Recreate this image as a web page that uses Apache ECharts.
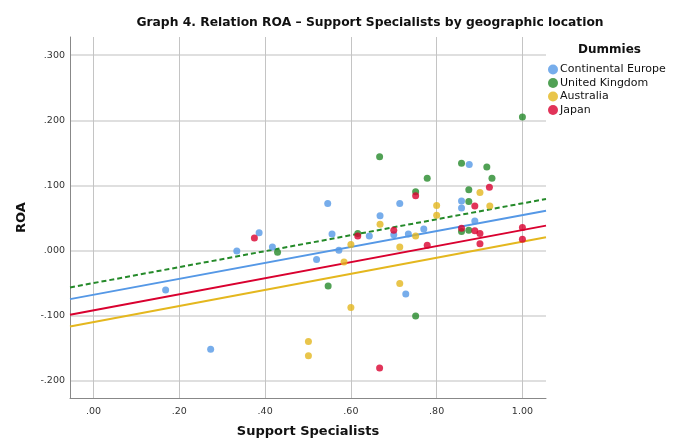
<!DOCTYPE html>
<html>
<head>
<meta charset="utf-8">
<script src="https://cdn.jsdelivr.net/npm/echarts@6/dist/echarts.min.js"></script>
<style>html,body{margin:0;padding:0;background:#fff}#c{width:678px;height:443px}</style>
</head>
<body>
<div id="c"></div>
<script>
const groupNames = ['Continental Europe', 'United Kingdom', 'Australia', 'Japan'];
const xTicks = [0, 0.2, 0.4, 0.6, 0.8, 1.0];
const yTicks = [-0.2, -0.1, 0, 0.1, 0.2, 0.3];

const europe = [[0.168,-0.061],[0.273,-0.152],[0.334,-0.001],[0.386,0.027],[0.417,0.005],[0.520,-0.014],[0.546,0.072],[0.556,0.025],[0.572,0.000],[0.643,0.022],[0.668,0.053],[0.700,0.024],[0.714,0.072],[0.728,-0.067],[0.734,0.025],[0.770,0.033],[0.858,0.076],[0.858,0.065],[0.876,0.132],[0.889,0.045]];
const uk = [[0.429,-0.003],[0.547,-0.055],[0.616,0.026],[0.667,0.144],[0.751,0.090],[0.751,-0.101],[0.778,0.111],[0.858,0.134],[0.858,0.029],[0.875,0.093],[0.875,0.075],[0.875,0.031],[0.917,0.128],[0.929,0.111],[1.000,0.205]];
const australia = [[0.501,-0.140],[0.501,-0.162],[0.584,-0.018],[0.600,0.009],[0.600,-0.088],[0.668,0.040],[0.714,0.005],[0.714,-0.051],[0.751,0.022],[0.800,0.069],[0.800,0.054],[0.901,0.089],[0.924,0.068]];
const japan = [[0.375,0.019],[0.616,0.022],[0.667,-0.181],[0.700,0.031],[0.751,0.084],[0.778,0.008],[0.858,0.034],[0.889,0.068],[0.889,0.030],[0.901,0.026],[0.901,0.010],[0.923,0.097],[1.000,0.035],[1.000,0.017]];

const fitEurope = [[-0.055,-0.075],[1.055,0.061]];
const fitUK = [[-0.055,-0.057],[1.055,0.079]];
const fitAustralia = [[-0.055,-0.117],[1.055,0.020]];
const fitJapan = [[-0.055,-0.099],[1.055,0.038]];

const colors = ['#5598e6', '#258a2a', '#e4b71e', '#d9012f'];
const pointSets = [europe, uk, australia, japan];
const fitSets = [fitEurope, fitUK, fitAustralia, fitJapan];

function fmt(v, d) {
  let s = Math.abs(v).toFixed(d).replace(/^0/, '');
  if (v < -1e-9) s = '-' + s;
  return s;
}

const series = [];
pointSets.forEach((pts, i) => {
  series.push({
    name: groupNames[i], type: 'scatter', data: pts, symbol: 'circle', symbolSize: 7,
    itemStyle: { color: colors[i] }, z: 3
  });
});
fitSets.forEach((ln, i) => {
  series.push({
    name: groupNames[i] + ' fit', type: 'line', data: ln, showSymbol: false, symbol: 'none',
    lineStyle: { color: colors[i], width: 2, type: i === 1 ? [5, 3] : 'solid' },
    silent: true, z: 2
  });
});

const chart = echarts.init(document.getElementById('c'));
chart.setOption({
  animation: false,
  backgroundColor: '#fff',
  title: [
    { text: 'Graph 4. Relation ROA – Support Specialists by geographic location', left: 365, top: 12, textAlign: 'center',
      textStyle: { fontFamily: 'DejaVu Sans', fontSize: 12.3, fontWeight: 'bold', color: '#111' } },
    { text: 'Dummies', left: 573, top: 39,
      textStyle: { fontFamily: 'DejaVu Sans', fontSize: 12, fontWeight: 'bold', color: '#111' } }
  ],
  legend: {
    data: groupNames.map(n => ({ name: n, icon: 'circle' })),
    orient: 'vertical', left: 543, top: 58, itemWidth: 10, itemHeight: 10, itemGap: 0.5,
    textStyle: { fontFamily: 'DejaVu Sans', fontSize: 11, color: '#111', padding: [0, 0, 0, -3], lineHeight: 13 }
  },
  grid: { left: 70, right: 132, top: 37, bottom: 41 },
  xAxis: {
    type: 'value', min: -0.055, max: 1.055,
    name: 'Support Specialists', nameLocation: 'middle', nameGap: 27,
    nameTextStyle: { fontFamily: 'DejaVu Sans', fontSize: 13, fontWeight: 'bold', color: '#111' },
    axisLine: { show: true, onZero: false, lineStyle: { color: '#888', width: 1 } },
    axisTick: { show: false, customValues: xTicks },
    axisLabel: { customValues: xTicks, formatter: v => fmt(v, 2), fontFamily: 'DejaVu Sans', fontSize: 9.5, color: '#333', margin: 9 },
    splitLine: { show: true, lineStyle: { color: '#c4c4c4', width: 1 } }
  },
  yAxis: {
    type: 'value', min: -0.227, max: 0.328,
    name: 'ROA', nameLocation: 'middle', nameGap: 42, nameRotate: 90,
    nameTextStyle: { fontFamily: 'DejaVu Sans', fontSize: 13, fontWeight: 'bold', color: '#111' },
    axisLine: { show: true, onZero: false, lineStyle: { color: '#888', width: 1 } },
    axisTick: { show: false, customValues: yTicks },
    axisLabel: { customValues: yTicks, formatter: v => fmt(v, 3), fontFamily: 'DejaVu Sans', fontSize: 9.5, color: '#333', margin: 5 },
    splitLine: { show: true, lineStyle: { color: '#d4d4d4', width: 1.5 } }
  },
  series: series
});
</script>
</body>
</html>
